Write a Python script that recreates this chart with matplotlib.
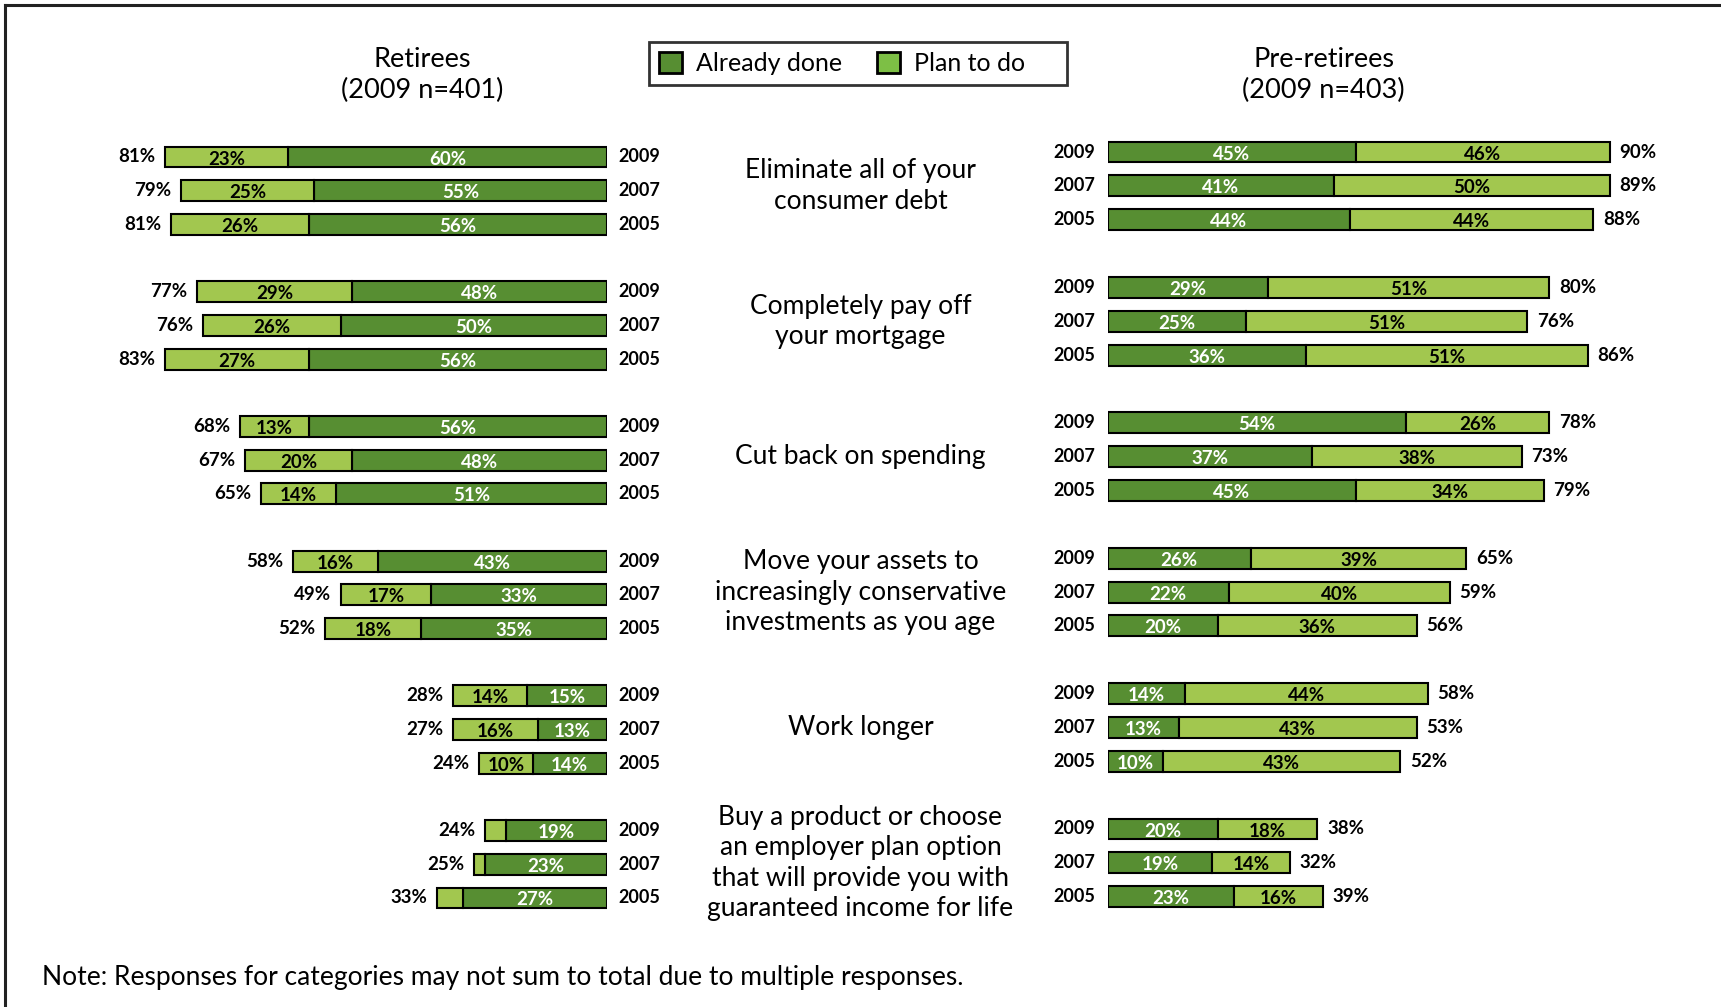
import matplotlib
matplotlib.use('Agg')
import matplotlib.pyplot as plt
import matplotlib.transforms as mtransforms
from matplotlib.patches import Patch
from matplotlib.lines import Line2D

plt.rcParams['font.family'] = ['Lato', 'DejaVu Sans']

# colours
done_color = '#578E32'
plan_color = '#A2C74F'
legend_plan_color = '#7DBF45'

years = ['2009', '2007', '2005']
categories = [
    'Eliminate all of your\nconsumer debt',
    'Completely pay off\nyour mortgage',
    'Cut back on spending',
    'Move your assets to\nincreasingly conservative\ninvestments as you age',
    'Work longer',
    'Buy a product or choose\nan employer plan option\nthat will provide you with\nguaranteed income for life',
]

# Retirees: rows per category in order 2009, 2007, 2005
ret_done = [[60, 55, 56], [48, 50, 56], [56, 48, 51], [43, 33, 35], [15, 13, 14], [19, 23, 27]]
ret_plan = [[23, 25, 26], [29, 26, 27], [13, 20, 14], [16, 17, 18], [14, 16, 10], [4, 2, 5]]
ret_total = [[81, 79, 81], [77, 76, 83], [68, 67, 65], [58, 49, 52], [28, 27, 24], [24, 25, 33]]
# plan labels too small to print in the last retiree group
ret_plan_show = [[True] * 3] * 5 + [[False] * 3]

# Pre-retirees
pre_done = [[45, 41, 44], [29, 25, 36], [54, 37, 45], [26, 22, 20], [14, 13, 10], [20, 19, 23]]
pre_plan = [[46, 50, 44], [51, 51, 51], [26, 38, 34], [39, 40, 36], [44, 43, 43], [18, 14, 16]]
pre_total = [[90, 89, 88], [80, 76, 86], [78, 73, 79], [65, 59, 56], [58, 53, 52], [38, 32, 39]]

W, H = 1721, 1007
fig = plt.figure(figsize=(W / 100, H / 100), dpi=100)


def px_axes(x0, x1, ytop, unit):
    # axes placed by pixel coordinates, 24 row units tall
    height = 24 * unit
    return fig.add_axes([x0 / W, (H - ytop - height) / H, (x1 - x0) / W, height / H])


ax_l = px_axes(75, 607, 157.0 - 33.68, 33.68)
ax_r = px_axes(1107.5, 1659.5, 152.0 - 33.85, 33.85)

bar_h = 0.62
lw = 1.5
val_fs = 13.5
year_fs = 13


def draw_panel(ax, done, plan, total, side, show=None):
    for g in range(len(done)):
        for r in range(3):
            y = g * 4 + r
            d, p, t = done[g][r], plan[g][r], total[g][r]
            ax.barh(y, d, height=bar_h, color=done_color, edgecolor='black', linewidth=lw)
            ax.barh(y, p, left=d, height=bar_h, color=plan_color, edgecolor='black', linewidth=lw)
            ax.text(d / 2, y + 0.06, f'{d}%', ha='center', va='center', color='white',
                    fontsize=val_fs, fontweight='bold')
            if show is None or show[g][r]:
                ax.text(d + p / 2, y + 0.06, f'{p}%', ha='center', va='center', color='black',
                        fontsize=val_fs, fontweight='bold')
            if side == 'left':
                ax.annotate(f'{t}%', (d + p, y), xytext=(-7, 0), textcoords='offset points',
                            ha='right', va='center', fontsize=val_fs, fontweight='bold')
                ax.annotate(years[r], (0, y), xytext=(8, 0), textcoords='offset points',
                            ha='left', va='center', fontsize=year_fs, fontweight='bold')
            else:
                ax.annotate(f'{t}%', (d + p, y), xytext=(7, 0), textcoords='offset points',
                            ha='left', va='center', fontsize=val_fs, fontweight='bold')
                ax.annotate(years[r], (0, y), xytext=(-9, 0), textcoords='offset points',
                            ha='right', va='center', fontsize=year_fs, fontweight='bold')
    ax.set_ylim(23, -1)
    if side == 'left':
        ax.set_xlim(100, 0)
    else:
        ax.set_xlim(0, 100)
    ax.axis('off')


draw_panel(ax_l, ret_done, ret_plan, ret_total, 'left', ret_plan_show)
draw_panel(ax_r, pre_done, pre_plan, pre_total, 'right')

# category labels in the middle column
trans = mtransforms.blended_transform_factory(fig.transFigure, ax_r.transData)
for g, cat in enumerate(categories):
    fig.text(860.5 / W, g * 4 + 1, cat, transform=trans, ha='center', va='center',
             fontsize=19, linespacing=1.27)

# panel titles
fig.text(422.6 / W, 1 - 75 / H, 'Retirees\n(2009 n=401)', ha='center', va='center',
         fontsize=19.5, linespacing=1.32)
fig.text(1323.7 / W, 1 - 75 / H, 'Pre-retirees\n(2009 n=403)', ha='center', va='center',
         fontsize=19.5, linespacing=1.32)

# legend
handles = [Patch(facecolor=done_color, edgecolor='black', linewidth=2),
           Patch(facecolor=legend_plan_color, edgecolor='black', linewidth=2)]
leg = fig.legend(handles, ['Already done', 'Plan to do     '], ncol=2, loc='center left',
                 bbox_to_anchor=(648.7 / W, 1 - 63.6 / H), fontsize=18, frameon=True,
                 fancybox=False, edgecolor='black', handlelength=0.93, handleheight=0.93,
                 handletextpad=0.55, columnspacing=1.39, borderpad=0.4, borderaxespad=0)
leg.get_frame().set_linewidth(2)

# note
fig.text(41.7 / W, 1 - 977 / H, 'Note: Responses for categories may not sum to total due to multiple responses.',
         ha='left', va='center', fontsize=19)

# outer frame (top and left edges visible)
fig.add_artist(Line2D([5 / W, 1], [1 - 5 / H, 1 - 5 / H], transform=fig.transFigure,
                      color='#222222', linewidth=2.2))
fig.add_artist(Line2D([5 / W, 5 / W], [0, 1 - 5 / H], transform=fig.transFigure,
                      color='#222222', linewidth=2.2))

fig.savefig('out.png', dpi=100, facecolor='white')
